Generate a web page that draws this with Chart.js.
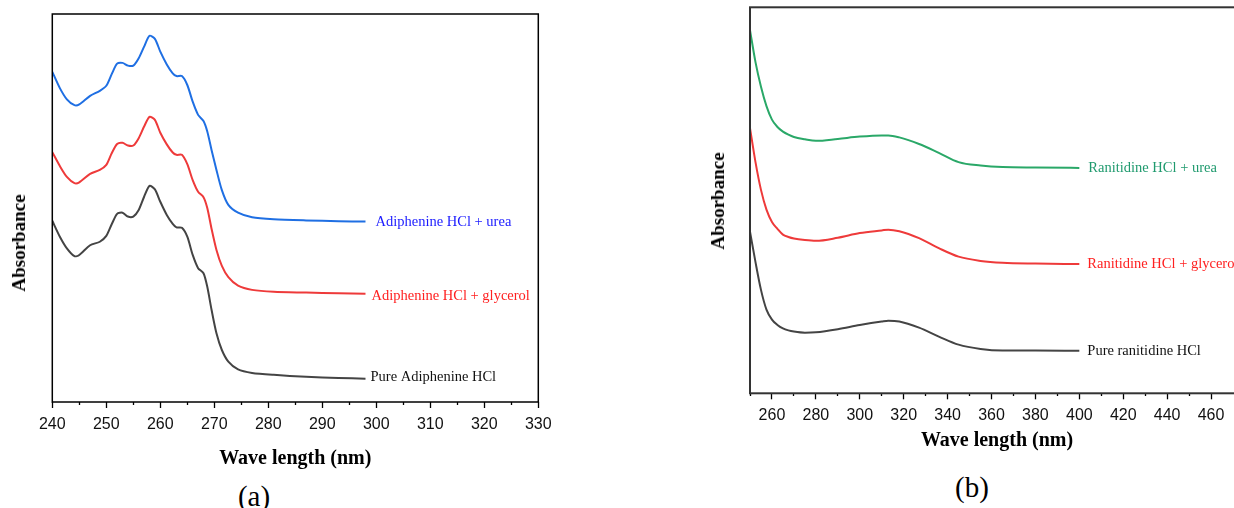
<!DOCTYPE html>
<html>
<head>
<meta charset="utf-8">
<script src="https://cdn.jsdelivr.net/npm/chart.js@4"></script>
<style>
  html, body { margin: 0; padding: 0; background: #fff; overflow: hidden; width: 1234px; height: 508px; }
  #boxA { position: absolute; left: 0; top: 0; width: 560px; height: 470px; }
  #boxB { position: absolute; left: 690px; top: 0; width: 585px; height: 460px; }
  .ytitle { position: absolute; font: bold 19px "Liberation Serif", serif; color: #000; white-space: nowrap;
            transform: translate(-50%, -50%) rotate(-90deg); }
  .cap { position: absolute; font: 29px "Liberation Serif", serif; color: #000; transform: translate(-50%, -50%); }
</style>
</head>
<body>
<div id="boxA"><canvas id="chartA"></canvas></div>
<div id="boxB"><canvas id="chartB"></canvas></div>
<div class="ytitle" style="left:19px; top:243px;">Absorbance</div>
<div class="ytitle" style="left:718px; top:201px;">Absorbance</div>
<div class="cap" style="left:254px; top:496px;">(a)</div>
<div class="cap" style="left:972px; top:487px;">(b)</div>
<script>
// (a) Adiphenine HCl - wavelengths (nm) and absorbance (arbitrary, stacked)
const wlA = [240, 241.4, 242.7, 244.1, 245, 247, 248.8, 250, 251, 252, 253, 254, 255, 256, 257, 258, 259, 260,
  261.2, 262.3, 263, 264, 265, 266, 267, 268, 268.7, 269.5, 270.4, 271.4, 272.6, 274.4, 277, 281, 287, 293, 298];
const ureaA = [.851, .809, .780, .765, .767, .789, .802, .815, .845, .872, .874, .867, .867, .886, .916, .944, .936, .903,
  .870, .847, .840, .840, .817, .774, .740, .724, .697, .649, .598, .546, .508, .488, .476, .471, .468, .466, .465];
const glycerolA = [.644, .608, .580, .564, .566, .588, .598, .611, .641, .665, .668, .661, .661, .680, .710, .735, .727, .694,
  .664, .643, .637, .637, .613, .572, .542, .528, .500, .446, .392, .351, .322, .300, .289, .284, .282, .280, .279];
const pureA = [.467, .426, .396, .376, .379, .404, .413, .428, .458, .485, .488, .478, .478, .495, .529, .557, .548, .516,
  .482, .459, .450, .449, .426, .379, .345, .332, .297, .237, .177, .134, .104, .084, .075, .070, .065, .062, .060];

// (b) Ranitidine HCl
const wlB = [250, 252.5, 255, 257.5, 260, 262.5, 265, 267.5, 270, 275, 280, 290, 300, 310, 313, 318, 327, 336, 345, 355, 365, 380, 400];
const ureaB = [.941, .858, .794, .744, .709, .690, .678, .670, .664, .658, .654, .659, .665, .668, .668, .663, .646, .623, .599, .590, .586, .585, .584];
const glycerolB = [.687, .599, .527, .476, .444, .426, .411, .405, .401, .397, .395, .403, .415, .422, .424, .420, .402, .376, .354, .343, .338, .336, .335];
const pureB = [.419, .340, .268, .217, .191, .177, .168, .163, .160, .157, .158, .166, .177, .186, .188, .186, .170, .147, .126, .115, .111, .111, .110];

const labelsA = ['Adiphenine HCl + urea', 'Adiphenine HCl + glycerol', 'Pure Adiphenine HCl'];
const labelsB = ['Ranitidine HCl + urea', 'Ranitidine HCl + glycerol', 'Pure ranitidine HCl'];

const pts = (xs, ys) => xs.map((x, i) => ({ x: x, y: ys[i] }));

// cadre autour de la zone de tracé
const frame = {
  id: 'frame',
  afterDatasetsDraw(chart, args, opts) {
    const { ctx, chartArea: a } = chart;
    ctx.save();
    ctx.strokeStyle = opts.color;
    ctx.lineWidth = opts.width;
    ctx.strokeRect(a.left, a.top, a.right - a.left, a.bottom - a.top);
    ctx.restore();
  }
};

// étiquette en bout de courbe
const endLabels = {
  id: 'endLabels',
  afterDatasetsDraw(chart) {
    const ctx = chart.ctx;
    ctx.save();
    ctx.font = '14.5px "Liberation Serif"';
    ctx.textBaseline = 'middle';
    chart.data.datasets.forEach((ds, i) => {
      const p = chart.getDatasetMeta(i).data;
      const last = p[p.length - 1];
      ctx.fillStyle = ds.labelColor;
      ctx.fillText(ds.label, last.x + ds.labelDx, last.y + ds.labelDy);
    });
    ctx.restore();
  }
};

function line(label, data, color, labelColor, dx, dy, smooth) {
  const ds = {
    label: label, data: data, borderColor: color, borderWidth: 2, pointRadius: 0, fill: false,
    labelColor: labelColor, labelDx: dx, labelDy: dy
  };
  if (smooth === 'monotone') ds.cubicInterpolationMode = 'monotone';
  else ds.tension = smooth;
  return ds;
}

function xAxis(min, max, step, major, padding, titlePad, height) {
  return {
    type: 'linear', min: min, max: max,
    ticks: {
      stepSize: step, autoSkip: false, maxRotation: 0, padding: padding, color: '#111',
      font: { family: 'Liberation Sans', size: 16 },
      callback: v => (v % major === 0 && v >= min) ? v : ''
    },
    grid: {
      drawOnChartArea: false, drawTicks: true, tickLength: 6, tickColor: '#000', tickWidth: 1.3,
      tickBorderDash: c => (c.tick && c.tick.value % major === 0) ? [] : [3, 20]
    },
    border: { display: false },
    title: {
      display: true, text: 'Wave length (nm)', color: '#000',
      font: { family: 'Liberation Serif', size: 20, weight: 'bold', lineHeight: 1 },
      padding: { top: 0, bottom: titlePad }
    },
    afterFit: s => { s.height = height; }
  };
}

function yAxis(width) {
  return {
    min: 0, max: 1,
    ticks: { display: false },
    grid: { display: false },
    border: { display: false },
    afterFit: s => { s.width = width; }
  };
}

new Chart(document.getElementById('chartA'), {
  type: 'line',
  data: {
    datasets: [
      line(labelsA[0], pts(wlA, ureaA), '#1f6fe3', '#1a1aff', 10, 1, 0.25),
      line(labelsA[1], pts(wlA, glycerolA), '#ee3a3a', '#ff2020', 6, 2, 0.25),
      line(labelsA[2], pts(wlA, pureA), '#444444', '#111111', 5, -1.5, 0.25)
    ]
  },
  options: {
    responsive: true, maintainAspectRatio: false, animation: false,
    layout: { padding: { top: 14, right: 21.7, left: 0, bottom: 0 } },
    scales: { x: xAxis(240, 330, 5, 10, 6.5, 1, 68), y: yAxis(52.3) },
    plugins: { legend: { display: false }, tooltip: { enabled: false }, frame: { color: '#000', width: 1.5 } }
  },
  plugins: [frame, endLabels]
});

new Chart(document.getElementById('chartB'), {
  type: 'line',
  data: {
    datasets: [
      line(labelsB[0], pts(wlB, ureaB), '#2aa868', '#1f9a6e', 9, 0, 'monotone'),
      line(labelsB[1], pts(wlB, glycerolB), '#ee3a3a', '#ff2020', 8, 0, 'monotone'),
      line(labelsB[2], pts(wlB, pureB), '#444444', '#111111', 8, 0, 'monotone')
    ]
  },
  options: {
    responsive: true, maintainAspectRatio: false, animation: false,
    layout: { padding: { top: 7.3, right: 31, left: 0, bottom: 0 } },
    scales: { x: xAxis(250, 475, 10, 20, 6.5, 9, 66.7), y: yAxis(60) },
    plugins: { legend: { display: false }, tooltip: { enabled: false }, frame: { color: '#333', width: 2 } }
  },
  plugins: [frame, endLabels]
});
</script>
</body>
</html>
